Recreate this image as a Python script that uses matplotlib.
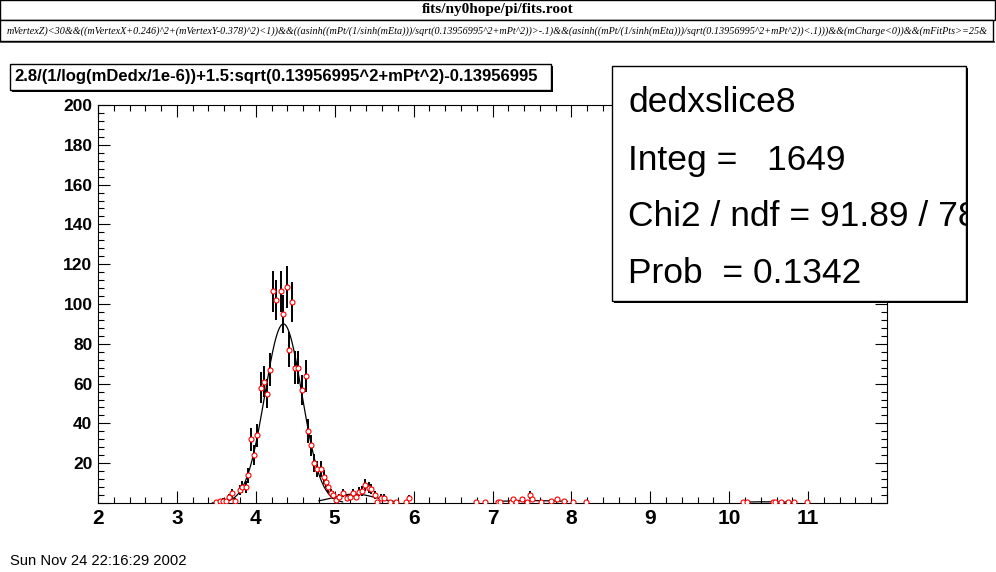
import numpy as np
import matplotlib.pyplot as plt
from matplotlib.patches import Rectangle
from matplotlib.ticker import MultipleLocator

W, H = 996, 572

# dE/dx slice points
x_pts = [3.50, 3.54, 3.58, 3.62, 3.66, 3.70, 3.74, 3.80, 3.83, 3.87,
         3.90, 3.94, 3.98, 4.02, 4.07, 4.11, 4.14, 4.18, 4.22, 4.26,
         4.32, 4.35, 4.39, 4.42, 4.46, 4.50, 4.54, 4.59, 4.63, 4.66,
         4.70, 4.74, 4.78, 4.83, 4.86, 4.89, 4.92, 4.95, 4.98, 5.02,
         5.06, 5.11, 5.15, 5.19, 5.23, 5.27, 5.31, 5.35, 5.39, 5.43,
         5.46, 5.51, 5.54, 5.59, 5.63, 5.70, 5.78, 5.90, 5.94,
         6.79, 6.91, 7.07, 7.09, 7.23, 7.26, 7.30, 7.38, 7.44, 7.47,
         7.50, 7.61, 7.74, 7.82, 7.91, 8.02, 8.18,
         10.18, 10.23, 10.55, 10.58, 10.66, 10.75, 10.82, 10.98]
y_pts = [0.5, 0.8, 1.2, 1.0, 2.8, 4.8, 1.2, 6.5, 8.0, 8.0,
         14.0, 32.0, 24.0, 34.0, 58.0, 61.0, 55.0, 67.0, 106.5, 102.0,
         106.5, 95.0, 108.5, 77.0, 101.0, 68.0, 68.0, 57.0, 64.0, 36.0,
         29.0, 20.0, 17.0, 17.0, 13.0, 10.7, 8.0, 5.0, 4.0, 1.5,
         3.0, 5.0, 2.4, 3.0, 5.0, 3.0, 5.7, 6.0, 9.0, 7.7,
         7.0, 4.0, 0.7, 2.7, 2.7, 0.7, 0.5, 0.5, 2.4,
         0.5, 0.5, 0.5, 0.5, 0.5, 1.8, 0.5, 1.8, 0.7, 4.0,
         1.8, 0.5, 1.0, 1.8, 1.0, 0.5, 0.5,
         0.5, 0.5, 0.5, 0.5, 0.5, 0.5, 0.5, 0.5]
y_err = np.sqrt(y_pts)

# fitted gaussian pieces: amplitude, mean, sigma, drawn from, drawn to
fit_amp = [90.0, 4.5, 1.2, 0.6]
fit_mean = [4.35, 5.25, 7.50, 10.45]
fit_sigma = [0.235, 0.27, 0.50, 0.35]
fit_lo = [3.45, 4.80, 7.05, 10.20]
fit_hi = [5.10, 5.80, 7.95, 10.85]

file_title = "fits/ny0hope/pi/fits.root"
cut_text = ("mVertexZ)<30&&((mVertexX+0.246)^2+(mVertexY-0.378)^2)<1))&&((asinh((mPt/(1/sinh(mEta)))"
            "/sqrt(0.13956995^2+mPt^2))>-.1)&&(asinh((mPt/(1/sinh(mEta)))/sqrt(0.13956995^2+mPt^2))<.1)))"
            "&&(mCharge<0))&&(mFitPts>=25&")
hist_title = "2.8/(1/log(mDedx/1e-6))+1.5:sqrt(0.13956995^2+mPt^2)-0.13956995"
stats_lines = ["dedxslice8", "Integ =   1649", "Chi2 / ndf = 91.89 / 78", "Prob  = 0.1342"]
date_text = "Sun Nov 24 22:16:29 2002"

plt.rcParams['font.family'] = ['Liberation Sans', 'DejaVu Sans']

fig = plt.figure(figsize=(W / 100, H / 100), dpi=100)


def fx(px):
    return px / W


def fy(py):
    return 1 - py / H


def box(x0, y0, x1, y1, shadow=True, lw=1.0):
    # ROOT style box with drop shadow, pixel coords from top-left
    if shadow:
        fig.add_artist(Rectangle((fx(x0 + 2), fy(y1 + 2)), fx(x1 - x0), (y1 - y0) / H,
                                 transform=fig.transFigure, facecolor='black',
                                 edgecolor='none', zorder=5))
    r = Rectangle((fx(x0), fy(y1)), fx(x1 - x0), (y1 - y0) / H,
                  transform=fig.transFigure, facecolor='white',
                  edgecolor='black', lw=lw, zorder=6)
    fig.add_artist(r)
    return r


ax = fig.add_axes([fx(98), fy(503), (887 - 98) / W, (503 - 105) / H])

ax.errorbar(x_pts, y_pts, yerr=y_err, fmt='none', ecolor='black',
            elinewidth=1.4, capsize=0, zorder=2)
for a, m, s, lo, hi in zip(fit_amp, fit_mean, fit_sigma, fit_lo, fit_hi):
    xx = np.linspace(lo, hi, 200)
    ax.plot(xx, a * np.exp(-0.5 * ((xx - m) / s) ** 2), color='black', lw=0.9, zorder=2.5)
ax.plot(x_pts, y_pts, 'o', mfc='white', mec='red', ms=3.6, mew=0.8, zorder=3)

ax.set_xlim(2, 12)
ax.set_ylim(0, 200)
ax.set_xticks(range(2, 13), [str(i) for i in range(2, 12)] + [''])
ax.set_yticks(range(0, 201, 20), [''] + [str(i) for i in range(20, 201, 20)])
ax.xaxis.set_minor_locator(MultipleLocator(0.2))
ax.yaxis.set_minor_locator(MultipleLocator(4))
ax.tick_params(which='both', direction='in', top=True, right=True, width=0.8, color='black')
ax.tick_params(which='major', length=8.5)
ax.tick_params(which='minor', length=4.3)
ax.tick_params(axis='x', labelsize=15, pad=4)
ax.tick_params(axis='y', labelsize=12.5, pad=4)
for lab in ax.get_xticklabels() + ax.get_yticklabels():
    lab.set_fontweight('bold')
for sp in ax.spines.values():
    sp.set_linewidth(0.8)

# file name bar and cut string bar
box(0, 0, 995, 20, shadow=False)
fig.text(fx(498), fy(10), file_title, ha='center', va='center', fontsize=11,
         family='Liberation Serif', weight='bold', zorder=7)
box(0, 20, 993, 41, shadow=False)
fig.add_artist(Rectangle((fx(0), fy(43)), fx(995), 2 / H, transform=fig.transFigure,
                         facecolor='#606060', edgecolor='none', zorder=5))
fig.text(fx(497), fy(31), cut_text, ha='center', va='center', fontsize=7.3,
         family='Liberation Serif', style='italic', zorder=7)

# histogram title
tbox = box(10, 64, 551, 90)
tt = fig.text(fx(14), fy(77), hist_title, ha='left', va='center', fontsize=12,
              weight='bold', zorder=7)
tt.set_clip_path(tbox)

# stats box
sbox = box(612, 66, 966, 301)
for i, line in enumerate(stats_lines):
    st = fig.text(fx(628), fy(103 + 57 * i), line, ha='left', va='center',
                  fontsize=25.5, zorder=7)
    st.set_clip_path(sbox)

fig.text(fx(10), fy(561), date_text, ha='left', va='center', fontsize=10.6, zorder=7)

fig.savefig('out.png', dpi=100)
